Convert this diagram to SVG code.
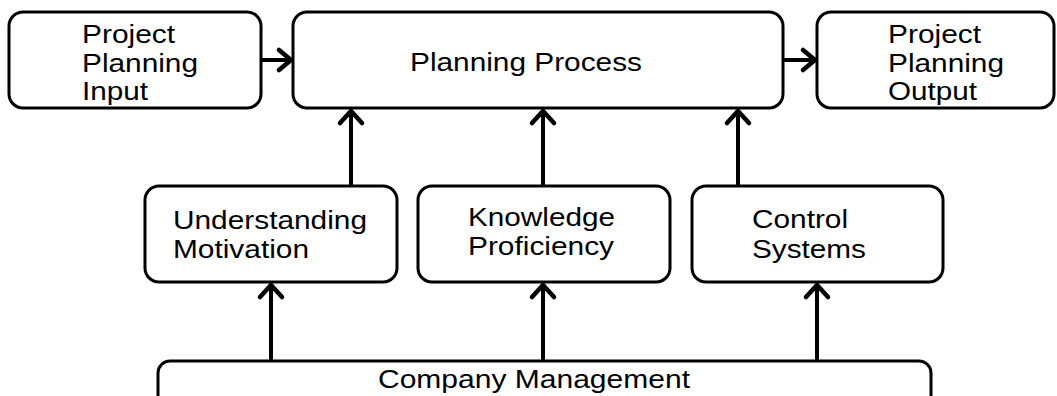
<svg xmlns="http://www.w3.org/2000/svg" width="1057" height="396" viewBox="0 0 1057 396">
<style>
.box{fill:#fff;stroke:#000;stroke-width:3}
.t{font-family:"Liberation Sans",Arial,sans-serif;font-size:25px;fill:#000}
.c{fill:none;stroke:#000;stroke-width:4}
.h{fill:none;stroke:#000;stroke-width:4.5;stroke-linecap:round;stroke-linejoin:round}
</style>
<rect width="1057" height="396" fill="#fff"/>
<g id="connectors">
<line class="c" x1="261" y1="60" x2="290" y2="60"/><polyline class="h" points="279,50 291,60 279,70"/>
<line class="c" x1="783" y1="60" x2="814" y2="60"/><polyline class="h" points="803,50 815,60 803,70"/>
<line class="c" x1="351" y1="186" x2="351" y2="112"/><polyline class="h" points="340,123 351,111 362,123"/>
<line class="c" x1="543" y1="186" x2="543" y2="112"/><polyline class="h" points="532,123 543,111 554,123"/>
<line class="c" x1="738" y1="186" x2="738" y2="112"/><polyline class="h" points="727,123 738,111 749,123"/>
<line class="c" x1="271" y1="360" x2="271" y2="286"/><polyline class="h" points="260,297 271,285 282,297"/>
<line class="c" x1="543" y1="360" x2="543" y2="286"/><polyline class="h" points="532,297 543,285 554,297"/>
<line class="c" x1="817" y1="360" x2="817" y2="286"/><polyline class="h" points="806,297 817,285 828,297"/>
</g>
<g id="input">
<rect class="box" x="9" y="12" width="252" height="96" rx="14"/>
<text class="t" x="82" y="43" textLength="93" lengthAdjust="spacingAndGlyphs">Project</text>
<text class="t" x="82" y="71.5" textLength="116" lengthAdjust="spacingAndGlyphs">Planning</text>
<text class="t" x="82" y="100" textLength="66" lengthAdjust="spacingAndGlyphs">Input</text>
</g>
<g id="process">
<rect class="box" x="293" y="12" width="490" height="96" rx="14"/>
<text class="t" x="410" y="71" textLength="232" lengthAdjust="spacingAndGlyphs">Planning Process</text>
</g>
<g id="output">
<rect class="box" x="817" y="12" width="237" height="96" rx="14"/>
<text class="t" x="888" y="43" textLength="93" lengthAdjust="spacingAndGlyphs">Project</text>
<text class="t" x="888" y="71.5" textLength="116" lengthAdjust="spacingAndGlyphs">Planning</text>
<text class="t" x="888" y="100" textLength="89" lengthAdjust="spacingAndGlyphs">Output</text>
</g>
<g id="understanding">
<rect class="box" x="145" y="186" width="252" height="96" rx="14"/>
<text class="t" x="173" y="229" textLength="194" lengthAdjust="spacingAndGlyphs">Understanding</text>
<text class="t" x="173" y="258" textLength="136" lengthAdjust="spacingAndGlyphs">Motivation</text>
</g>
<g id="knowledge">
<rect class="box" x="418" y="186" width="252" height="96" rx="14"/>
<text class="t" x="468" y="226" textLength="147" lengthAdjust="spacingAndGlyphs">Knowledge</text>
<text class="t" x="468" y="255" textLength="146" lengthAdjust="spacingAndGlyphs">Proficiency</text>
</g>
<g id="control">
<rect class="box" x="692" y="186" width="251" height="96" rx="14"/>
<text class="t" x="752" y="228" textLength="96" lengthAdjust="spacingAndGlyphs">Control</text>
<text class="t" x="752" y="258" textLength="114" lengthAdjust="spacingAndGlyphs">Systems</text>
</g>
<g id="management">
<rect class="box" x="158" y="361" width="773" height="70" rx="12"/>
<text class="t" x="378" y="388" textLength="312" lengthAdjust="spacingAndGlyphs">Company Management</text>
</g>
</svg>
